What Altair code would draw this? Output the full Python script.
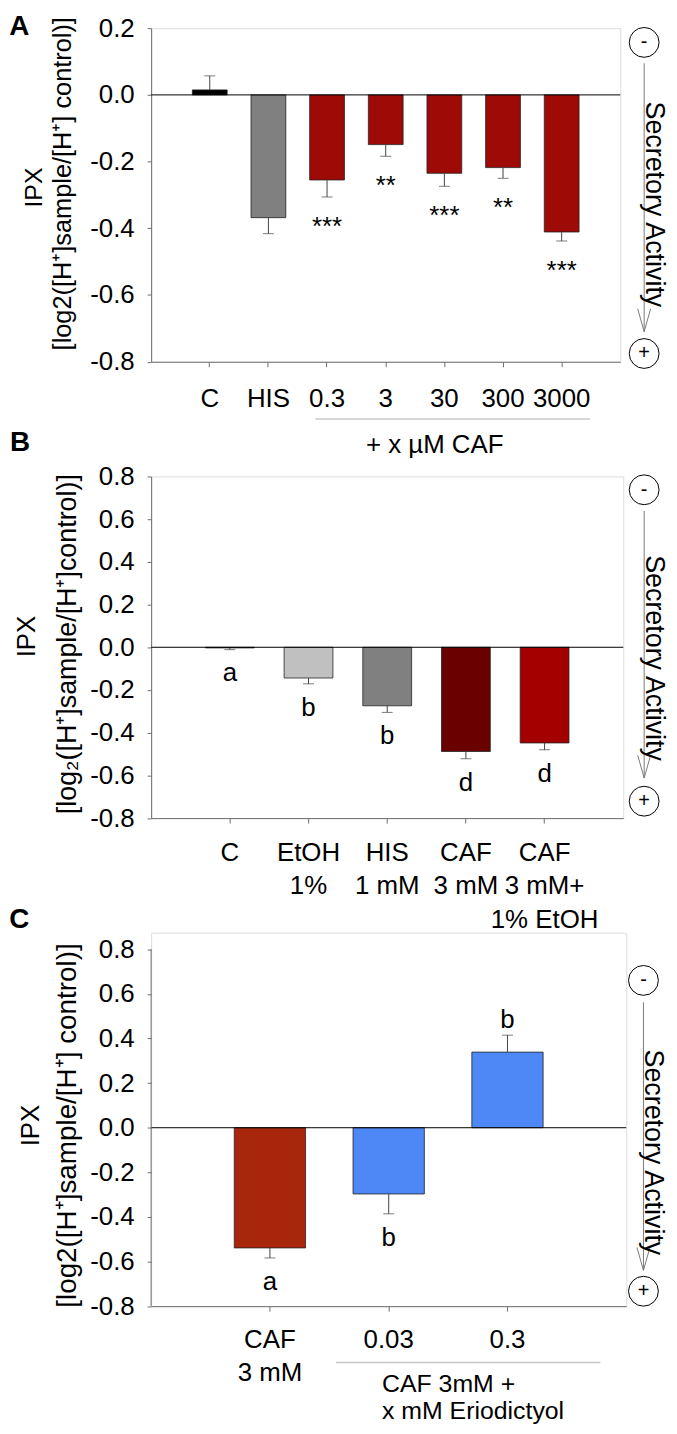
import altair as alt
import pandas as pd

FONT = "Liberation Sans"
AX = "#6e6e6e"
ERR = "#444444"

# ---------------- data ----------------
A_CATS = ["C", "HIS", "0.3", "3", "30", "300", "3000"]
A_VALS = [0.015, -0.368, -0.255, -0.149, -0.235, -0.218, -0.411]
A_ERRS = [0.042, 0.048, 0.051, 0.035, 0.039, 0.032, 0.027]
A_NOTES = ["", "", "***", "**", "***", "**", "***"]
A_COLORS = ["#000000", "#808080", "#9e0a06", "#9e0a06", "#9e0a06", "#9e0a06", "#9e0a06"]
A_YTICKS = [0.2, 0.0, -0.2, -0.4, -0.6, -0.8]

B_CATS = ["C", "EtOH|1%", "HIS|1 mM", "CAF|3 mM", "CAF|3 mM+|1% EtOH"]
B_VALS = [-0.003, -0.144, -0.274, -0.488, -0.448]
B_ERRS = [0.008, 0.027, 0.031, 0.034, 0.032]
B_NOTES = ["a", "b", "b", "d", "d"]
B_COLORS = ["#000000", "#c0c0c0", "#808080", "#6b0000", "#a50000"]
B_YTICKS = [0.8, 0.6, 0.4, 0.2, 0.0, -0.2, -0.4, -0.6, -0.8]

C_CATS = ["CAF|3 mM", "0.03", "0.3"]
C_VALS = [-0.539, -0.297, 0.339]
C_ERRS = [0.045, 0.089, 0.076]
C_NOTES = ["a", "b", "b"]
C_COLORS = ["#a8260c", "#4e87f6", "#4e87f6"]
C_YTICKS = [0.8, 0.6, 0.4, 0.2, 0.0, -0.2, -0.4, -0.6, -0.8]

TITLE_A = "[log2([H\u207a]sample/[H\u207a] control)]"
TITLE_B = "[log\u2082([H\u207a]sample/[H\u207a]control)]"
TITLE_C = "[log2([H\u207a]sample/[H\u207a] control)]"

one = pd.DataFrame({"k": [0]})
FS = 26


def txt(s, x, y, size=FS, angle=0, align="center", baseline="middle", weight="normal"):
    return alt.Chart(one).mark_text(
        text=s, font=FONT, fontSize=size, angle=angle, align=align,
        baseline=baseline, fontWeight=weight, color="black"
    ).encode(x=alt.value(x), y=alt.value(y))


def rule(x, y, x2, y2, color, width=1.0):
    return alt.Chart(one).mark_rule(color=color, strokeWidth=width).encode(
        x=alt.value(x), y=alt.value(y), x2=alt.value(x2), y2=alt.value(y2))


def circle(x, y, sign):
    c = alt.Chart(one).mark_point(shape="circle", filled=False, size=900,
                                  color="black", strokeWidth=1, opacity=1).encode(
        x=alt.value(x), y=alt.value(y))
    return [c, txt(sign, x, y, size=20)]


def activity(x, y_minus, y_plus, line_top, tip, text_y):
    layers = circle(x, y_minus, "-") + circle(x, y_plus, "+")
    layers.append(rule(x, line_top, x, tip, "#7a7a7a"))
    layers.append(rule(x - 6.5, tip - 23, x, tip, "#7a7a7a"))
    layers.append(rule(x + 6.5, tip - 23, x, tip, "#7a7a7a"))
    layers.append(txt("Secretory Activity", x + 10, text_y, size=27, angle=90))
    return layers


def panel(cats, vals, errs, notes, colors, width, height, ydom, yticks,
          pin, pout, lab_pad, lab_lh, dy_below, dy_above, extras, ydomain_line=True):
    df = pd.DataFrame({"cat": cats, "val": vals, "err": errs,
                       "note": notes, "color": colors})
    df["base"] = 0.0
    df["end"] = [v + e if v > 0 else v - e for v, e in zip(vals, errs)]

    xenc = alt.X("cat:N", sort=cats,
                 scale=alt.Scale(paddingInner=pin, paddingOuter=pout),
                 axis=alt.Axis(title=None, labelAngle=0, labelFont=FONT, labelFontSize=FS,
                               labelColor="black", labelPadding=lab_pad,
                               labelLineHeight=lab_lh, labelBaseline="top",
                               labelExpr="split(datum.label, '|')",
                               tickSize=5, tickColor=AX, domainColor=AX,
                               domainWidth=1, grid=False))
    yscale = alt.Scale(domain=ydom, nice=False, zero=False)
    yaxis = alt.Axis(title=None, values=yticks, grid=False,
                     labelExpr="replace(format(datum.value, '.1f'), '\u2212', '-')",
                     labelFont=FONT, labelFontSize=FS, labelColor="black",
                     labelPadding=13, tickSize=4, tickColor=AX,
                     domain=ydomain_line, domainColor=AX, domainWidth=1)

    base = alt.Chart(df)
    bars = base.mark_bar(stroke="#222222", strokeWidth=0.8).encode(
        x=xenc, y=alt.Y("val:Q", scale=yscale, axis=yaxis), y2="base:Q",
        color=alt.Color("color:N", scale=None, legend=None))
    stems = base.mark_rule(color=ERR, strokeWidth=1).encode(
        x=xenc, y=alt.Y("val:Q", scale=yscale, axis=yaxis), y2="end:Q")
    caps = base.mark_tick(color=ERR, size=11, thickness=1).encode(
        x=xenc, y=alt.Y("end:Q", scale=yscale, axis=yaxis))
    below = base.transform_filter("datum.val <= 0").mark_text(
        font=FONT, fontSize=FS, baseline="alphabetic", dy=dy_below, color="black").encode(
        x=xenc, y=alt.Y("end:Q", scale=yscale, axis=yaxis), text="note:N")
    above = base.transform_filter("datum.val > 0").mark_text(
        font=FONT, fontSize=FS, baseline="alphabetic", dy=dy_above, color="black").encode(
        x=xenc, y=alt.Y("end:Q", scale=yscale, axis=yaxis), text="note:N")
    zero = alt.Chart(one).mark_rule(color="black", strokeWidth=1).encode(
        y=alt.Y(datum=0, scale=yscale, axis=yaxis), x=alt.value(0), x2=alt.value(width))
    layers = [bars, zero, stems, caps, below, above]
    if not ydomain_line:
        layers.append(alt.Chart(one).mark_rule(color=AX, strokeWidth=1).encode(
            x=alt.value(0), y=alt.Y(datum=yticks[0], scale=yscale, axis=yaxis),
            y2=alt.datum(yticks[-1])))
    layers += extras
    return alt.layer(*layers).properties(width=width, height=height)


# ---------------- panel A ----------------
A_H = 335.6
extras_A = [
    txt("A", -142.7, -14.7, size=28, align="left", baseline="top", weight="bold"),
    txt("IPX", -117.4, 160.3, size=25, angle=270),
    txt(TITLE_A, -88.4, 156.5, size=25.5, angle=270),
    rule(165.3, 393.3, 441.3, 393.3, "#c8c8c8", 1.5),
    txt("+ x \u00b5M CAF", 285.3, 419),
] + activity(496, 14.3, 327.3, 35.3, 305.3, 177.3)
chart_A = panel(A_CATS, A_VALS, A_ERRS, A_NOTES, A_COLORS, 472, A_H, [-0.8, 0.2], A_YTICKS,
                0.407, 0.703, 18.8, 33, 38, -7, extras_A)

# ---------------- panel B ----------------
B_H = 343.7
extras_B = [
    txt("B", -142, -47.3, size=28, align="left", baseline="top", weight="bold"),
    txt("IPX", -125, 161, angle=270),
    txt(TITLE_B, -84, 168.7, size=27, angle=270),
] + activity(496, 13.4, 326.7, 34.7, 303.4, 182.7)
chart_B = panel(B_CATS, B_VALS, B_ERRS, B_NOTES, B_COLORS, 475, B_H, [-0.8, 0.8], B_YTICKS,
                0.38, 0.69, 16.8, 33.5, 32, -7, extras_B)

# ---------------- panel C ----------------
C_PAD = 16.7
C_H = 359 + C_PAD
extras_C = [
    txt("C", -142.7, -27, size=28, align="left", baseline="top", weight="bold"),
    txt("IPX", -120.7, 194, angle=270),
    txt(TITLE_C, -83.7, 194, size=28, angle=270),
    rule(186, 432.3, 452, 432.3, "#c8c8c8", 1.5),
    txt("CAF 3mM +", 232.3, 454, size=25, align="left"),
    txt("x mM Eriodictyol", 232.3, 481.5, size=25, align="left"),
] + activity(495.3, 48, 360.7, 70, 339.7, 221)
chart_C = panel(C_CATS, C_VALS, C_ERRS, C_NOTES, C_COLORS, 478, C_H,
                [-0.8, 0.8 + C_PAD / 224.4], C_YTICKS,
                0.4, 0.7, 16.0, 33, 32, -7, extras_C, ydomain_line=False)

chart = alt.vconcat(chart_A, chart_B, chart_C, spacing=115, bounds="flush").properties(
    padding=0
).configure_view(stroke=None).configure(background="white")

chart.save("out.html", embed_options={"renderer": "svg", "actions": False})
